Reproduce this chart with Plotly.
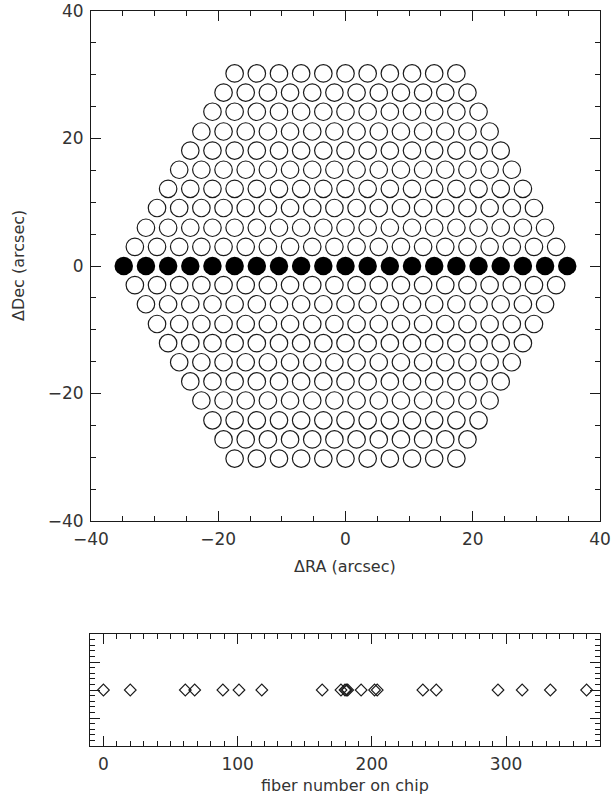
import plotly.graph_objects as go

# Fibre bundle rows: declination offset of each row (arcsec) and number of fibres in it
row_dec = [30.2, 27.2, 24.2, 21.1, 18.1, 15.1, 12.1, 9.1, 6.0, 3.0, 0.0,
           -3.0, -6.0, -9.1, -12.1, -15.1, -18.1, -21.1, -24.2, -27.2, -30.2]
row_count = [11, 12, 13, 14, 15, 16, 17, 18, 19, 20, 21,
             20, 19, 18, 17, 16, 15, 14, 13, 12, 11]
fiber_pitch = 3.485  # centre-to-centre spacing along a row (arcsec)

# Chip positions of the 21 fibres in the central (highlighted) row
fiber_on_chip = [0, 20, 61, 68, 89, 101, 118, 163, 177, 180, 181, 182,
                 192, 202, 204, 238, 248, 294, 312, 333, 360]

# Build fibre centres, row by row, centred on RA = 0
open_x, open_y, fill_x, fill_y = [], [], [], []
for dec, n in zip(row_dec, row_count):
    for i in range(n):
        ra = (i - (n - 1) / 2) * fiber_pitch
        if dec == 0:
            fill_x.append(ra)
            fill_y.append(dec)
        else:
            open_x.append(ra)
            open_y.append(dec)

W, H = 616, 804
FONT = "DejaVu Sans"
INK = "#1a1a1a"
TXT = "#333333"

fig = go.Figure()
fig.add_trace(go.Scatter(
    x=open_x, y=open_y, mode="markers", xaxis="x", yaxis="y",
    marker=dict(symbol="circle-open", size=17.5, color=INK, line=dict(width=1.2, color=INK)),
    hoverinfo="skip", showlegend=False))
fig.add_trace(go.Scatter(
    x=fill_x, y=fill_y, mode="markers", xaxis="x", yaxis="y",
    marker=dict(symbol="circle", size=18.5, color="black", line=dict(width=0)),
    hoverinfo="skip", showlegend=False))
fig.add_trace(go.Scatter(
    x=fiber_on_chip, y=[0] * len(fiber_on_chip), mode="markers", xaxis="x2", yaxis="y2",
    marker=dict(symbol="diamond-open", size=9, color=INK, line=dict(width=1.1, color=INK)),
    hoverinfo="skip", showlegend=False))


def ax(**kw):
    base = dict(showgrid=False, zeroline=False, showline=True, linecolor=INK, linewidth=1,
                mirror="allticks", ticks="inside", ticklen=10, tickwidth=1, tickcolor=INK,
                automargin=False, ticklabelstandoff=3,
                tickfont=dict(family=FONT, size=17, color=TXT),
                minor=dict(ticks="inside", ticklen=5, tickwidth=1, tickcolor=INK))
    base.update(kw)
    return base


px = lambda v: v / W
py = lambda v: 1 - v / H

fig.update_layout(
    width=W, height=H, margin=dict(l=0, r=0, t=0, b=0, autoexpand=False),
    paper_bgcolor="white", plot_bgcolor="white",
    xaxis=ax(domain=[px(91), px(600)], range=[-40, 40], dtick=20, tick0=0,
             minor_dtick=5, anchor="y"),
    yaxis=ax(domain=[py(521), py(11)], range=[-40, 40], dtick=20, tick0=0,
             minor_dtick=5, anchor="x"),
    xaxis2=ax(domain=[px(90), px(600)], range=[-10, 370], dtick=100, tick0=0,
              minor_dtick=10, anchor="y2"),
    yaxis2=ax(domain=[py(746), py(634)], range=[-1, 1], dtick=0.5, tick0=0,
              minor_dtick=0.1, anchor="x2", showticklabels=False),
)

# Axis titles
title_font = dict(family=FONT, size=16, color=TXT)
fig.add_annotation(text="ΔRA (arcsec)", xref="paper", yref="paper",
                   x=px(345), y=py(566), xanchor="center", yanchor="middle",
                   showarrow=False, font=title_font)
fig.add_annotation(text="ΔDec (arcsec)", xref="paper", yref="paper",
                   x=px(18), y=py(266), xanchor="center", yanchor="middle",
                   showarrow=False, textangle=-90, font=title_font)
fig.add_annotation(text="fiber number on chip", xref="paper", yref="paper",
                   x=px(345), y=py(785), xanchor="center", yanchor="middle",
                   showarrow=False, font=title_font)

fig.write_html("out.html")
